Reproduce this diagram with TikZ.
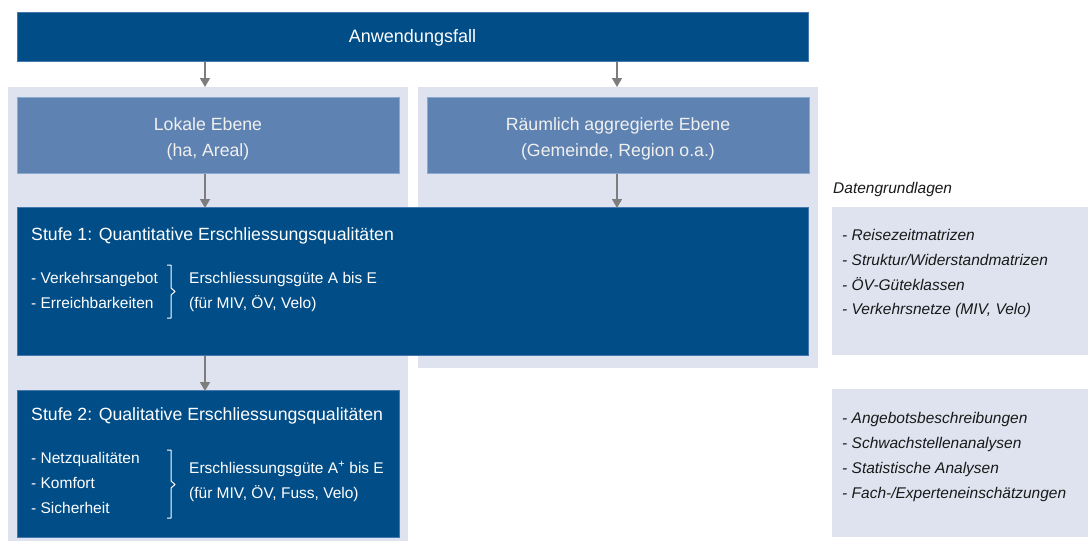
\documentclass[tikz,border=0pt]{standalone}
\usepackage{fontspec}
\setmainfont{Liberation Sans}
\usetikzlibrary{arrows.meta}
\definecolor{darkblue}{RGB}{0,77,135}
\definecolor{darkedge}{RGB}{70,120,175}
\definecolor{midblue}{RGB}{94,130,178}
\definecolor{midedge}{RGB}{140,170,205}
\definecolor{lightbg}{RGB}{222,227,239}
\definecolor{arrgray}{RGB}{125,125,125}
\definecolor{txtdark}{RGB}{25,25,25}
\tikzset{
  darkbox/.style={fill=darkblue, draw=darkedge, line width=0.8pt, anchor=north west, inner sep=0pt},
  midbox/.style={fill=midblue, draw=midedge, line width=0.8pt, anchor=north west, inner sep=0pt},
  bgbox/.style={fill=lightbg, draw=none, anchor=north west, inner sep=0pt},
  head/.style={text=white, font=\fontsize{17.7}{21}\selectfont, inner sep=0pt},
  headc/.style={text=white!94!black, font=\fontsize{17.7}{21}\selectfont, inner sep=0pt, anchor=base},
  item/.style={text=white, font=\fontsize{15.5}{18}\selectfont, inner sep=0pt, anchor=base west},
  ditem/.style={text=txtdark, font=\fontsize{15.5}{18}\selectfont\itshape, inner sep=0pt, anchor=base west},
  arr/.style={draw=arrgray, line width=1.5pt, -{Triangle[width=10pt,length=9pt]}},
  brace/.style={draw=white, line width=1pt, line join=round}
}
\begin{document}
\begin{tikzpicture}[x=1pt,y=-1pt]
\useasboundingbox (0,0) rectangle (1088,541);
% backgrounds
\node[bgbox, minimum width=400pt, minimum height=454pt] (bgl) at (8,87) {};
\node[bgbox, minimum width=400pt, minimum height=281pt] (bgr) at (418,87) {};
\node[bgbox, minimum width=256pt, minimum height=148pt] (d1) at (832,207) {};
\node[bgbox, minimum width=256pt, minimum height=148pt] (d2) at (832,389) {};
% main boxes
\node[darkbox, minimum width=791pt, minimum height=49pt] (top) at (17,12) {};
\node[head, font=\fontsize{18}{21}\selectfont] (toptxt) at (412.5,37.5) {Anwendungsfall};
\node[midbox, minimum width=382pt, minimum height=76pt] (lok) at (17,97) {};
\node[midbox, minimum width=382pt, minimum height=76pt] (rau) at (427,97) {};
\node[headc] (lok1) at (208,130) {Lokale Ebene};
\node[headc] (lok2) at (208,156.5) {(ha, Areal)};
\node[headc] (rau1) at (618,130) {Räumlich aggregierte Ebene};
\node[headc] (rau2) at (618,156.5) {(Gemeinde, Region o.a.)};
\node[darkbox, minimum width=791pt, minimum height=148pt] (s1) at (17,207) {};
\node[darkbox, minimum width=382pt, minimum height=147pt] (s2) at (17,390) {};
% arrows
\draw[arr] (top.south -| 205,0) -- (bgl.north -| 205,0);
\draw[arr] (top.south -| 617,0) -- (bgr.north -| 617,0);
\draw[arr] (lok.south -| 205,0) -- ([yshift=-1pt]s1.north -| 205,0);
\draw[arr] (rau.south -| 617,0) -- ([yshift=-1pt]s1.north -| 617,0);
\draw[arr] (s1.south -| 205,0) -- ([yshift=-1pt]s2.north -| 205,0);
% Stufe 1
\node[head, anchor=base west] (s1h) at (31,240.5) {Stufe 1: Quantitative Erschliessungsqualitäten};
\node[item] (s1a) at (31,283) {- Verkehrsangebot};
\node[item] (s1b) at (31,308) {- Erreichbarkeiten};
\node[item] (s1c) at (189,283) {Erschliessungsgüte A bis E};
\node[item] (s1d) at (189,308) {(für MIV, ÖV, Velo)};
\draw[brace] (167,265) -- (171,265) -- (171,288) -- (175,291.5) -- (171,295) -- (171,318) -- (167,318);
% Stufe 2
\node[head, anchor=base west] (s2h) at (31,420) {Stufe 2: Qualitative Erschliessungsqualitäten};
\node[item] (s2a) at (31,463) {- Netzqualitäten};
\node[item] (s2b) at (31,488) {- Komfort};
\node[item] (s2c) at (31,513) {- Sicherheit};
\node[item] (s2d) at (189,473) {Erschliessungsgüte A\textsuperscript{+} bis E};
\node[item] (s2e) at (189,498) {(für MIV, ÖV, Fuss, Velo)};
\draw[brace] (167,450) -- (171,450) -- (171,481) -- (175,484.5) -- (171,488) -- (171,518) -- (167,518);
% Datengrundlagen
\node[ditem] (dh) at (833,193) {Datengrundlagen};
\node[ditem] (da) at (842,240) {- Reisezeitmatrizen};
\node[ditem] (db) at (842,265) {- Struktur/Widerstandmatrizen};
\node[ditem] (dc) at (842,290) {- ÖV-Güteklassen};
\node[ditem] (dd) at (842,314.5) {- Verkehrsnetze (MIV, Velo)};
\node[ditem] (de) at (842,423) {- Angebotsbeschreibungen};
\node[ditem] (df) at (842,448) {- Schwachstellenanalysen};
\node[ditem] (dg) at (842,473) {- Statistische Analysen};
\node[ditem] (di) at (842,498) {- Fach-/Experteneinschätzungen};
\end{tikzpicture}
\end{document}
